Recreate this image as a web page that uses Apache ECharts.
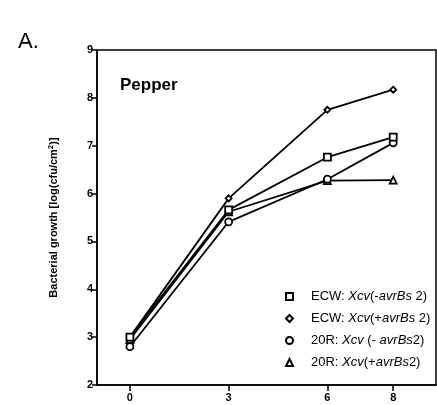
<!DOCTYPE html>
<html>
<head>
<meta charset="utf-8">
<script src="https://cdn.jsdelivr.net/npm/echarts@6/dist/echarts.min.js"></script>
<style>
html,body{margin:0;padding:0;background:#fff;}
#chart{width:437px;height:405px;}
</style>
</head>
<body>
<div id="chart"></div>
<script>
// days post inoculation (x) and log(cfu/cm2) values
var days = [0, 3, 6, 8];
var ecwMinus = [3.0, 5.66, 6.76, 7.18];
var ecwPlus = [3.0, 5.9, 7.75, 8.17];
var r20Minus = [2.8, 5.41, 6.3, 7.06];
var r20Plus = [2.95, 5.62, 6.27, 6.28];
var seriesNames = ['ECW -', 'ECW +', '20R -', '20R +'];
var legendText = {
	'ECW -': '{n|ECW: }{i|Xcv}{n|(-}{i|avrBs}{n| 2)}',
	'ECW +': '{n|ECW: }{i|Xcv}{n|(+}{i|avrBs}{n| 2)}',
	'20R -': '{n|20R: }{i|Xcv}{n| (- }{i|avrBs}{n|2)}',
	'20R +': '{n|20R: }{i|Xcv}{n|(+}{i|avrBs}{n|2)}'
};

function pairs(vals){
	var out = [];
	for (var i = 0; i < days.length; i++) out.push([days[i], vals[i]]);
	return out;
}

function mkSeries(name, vals, symbol, size){
	return {
		name: name,
		type: 'line',
		data: pairs(vals),
		symbol: symbol,
		symbolSize: size,
		showAllSymbol: true,
		lineStyle: {color: '#000', width: 1.8},
		itemStyle: {color: '#fff', borderColor: '#000', borderWidth: 1.8},
		emphasis: {disabled: true},
		z: 3
	};
}

var chart = echarts.init(document.getElementById('chart'));
var font = 'Liberation Sans, Arial, Helvetica, sans-serif';
var option = {
	animation: false,
	textStyle: {fontFamily: font},
	grid: {left: 97, top: 50, right: 1, bottom: 20, show: true, borderColor: '#000', borderWidth: 1.5, backgroundColor: 'transparent'},
	title: [
		{text: 'A.', left: 13, top: 26, textStyle: {fontSize: 22, fontWeight: 'normal', color: '#000', fontFamily: font}},
		{text: 'Pepper', left: 115, top: 72, textStyle: {fontSize: 17, fontWeight: 'bold', color: '#000', fontFamily: font}}
	],
	legend: {
		orient: 'vertical',
		left: 280,
		top: 285,
		itemGap: 9,
		itemWidth: 7,
		itemHeight: 7,
		data: [
			{name: 'ECW -', icon: 'rect'},
			{name: 'ECW +', icon: 'diamond'},
			{name: '20R -', icon: 'circle'},
			{name: '20R +', icon: 'triangle'}
		],
		formatter: function(n){ return legendText[n]; },
		textStyle: {
			padding: [0, 0, 0, 13],
			rich: {
				n: {fontSize: 13, color: '#000', fontFamily: font},
				i: {fontSize: 13, color: '#000', fontStyle: 'italic', fontFamily: font}
			}
		}
	},
	xAxis: {
		type: 'value',
		min: -1,
		max: 9.3,
		interval: 1,
		splitLine: {show: false},
		axisLine: {show: true, onZero: false, lineStyle: {color: '#000', width: 1.5}},
		axisTick: {show: true, length: 6, customValues: days, lineStyle: {color: '#000', width: 1.5}},
		axisLabel: {customValues: days, color: '#000', fontSize: 11, fontWeight: 'bold', margin: 7, fontFamily: font}
	},
	yAxis: {
		type: 'value',
		min: 2,
		max: 9,
		interval: 1,
		splitLine: {show: false},
		axisLine: {show: true, onZero: false, lineStyle: {color: '#000', width: 1.5}},
		axisTick: {show: true, length: 5, lineStyle: {color: '#000', width: 1.5}},
		axisLabel: {color: '#000', fontSize: 11, fontWeight: 'bold', margin: 4, fontFamily: font},
		name: 'Bacterial growth [log(cfu/cm{s|2})]',
		nameLocation: 'middle',
		nameGap: 36,
		nameTextStyle: {
			color: '#000', fontSize: 11, fontWeight: 'bold', fontFamily: font,
			rich: {s: {fontSize: 8, fontWeight: 'bold', verticalAlign: 'top', padding: [0, 0, 6, 0]}}
		}
	},
	series: [
		mkSeries(seriesNames[3], r20Plus, 'triangle', 7),
		mkSeries(seriesNames[2], r20Minus, 'circle', 7),
		mkSeries(seriesNames[1], ecwPlus, 'diamond', 6),
		mkSeries(seriesNames[0], ecwMinus, 'rect', 7)
	]
};
chart.setOption(option);
</script>
</body>
</html>
